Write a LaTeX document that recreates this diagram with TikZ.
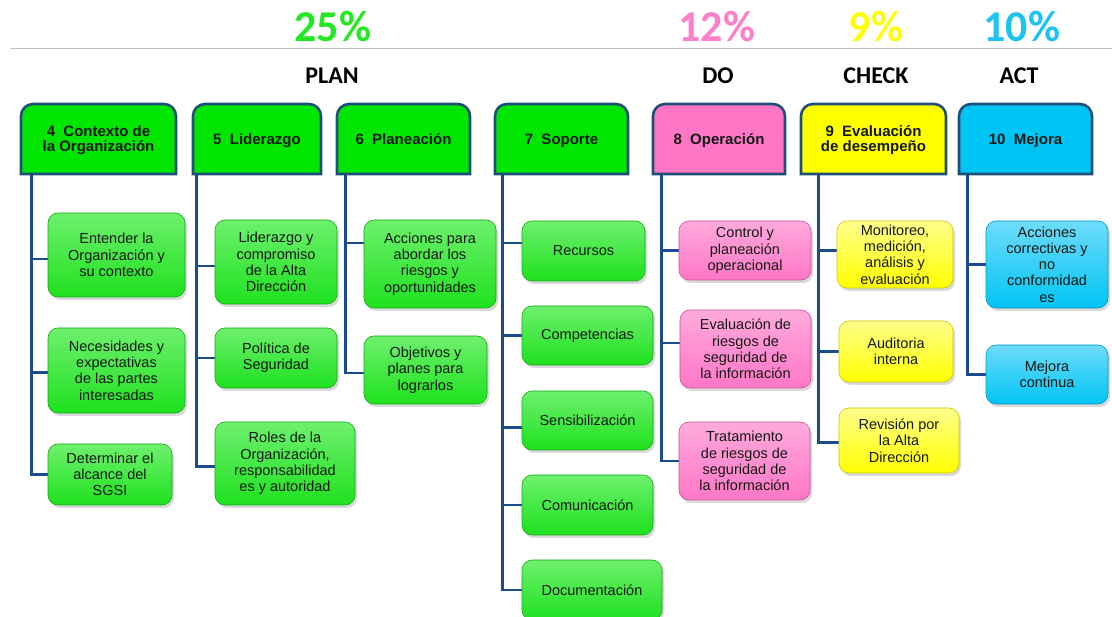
\documentclass[tikz,border=0pt]{standalone}
\usepackage{fontspec}
\setmainfont{Liberation Sans}
\newfontfamily\calib{Carlito}
\usetikzlibrary{shadows,backgrounds}
\definecolor{hdrline}{RGB}{31,78,121}
\definecolor{connc}{RGB}{26,75,140}
\definecolor{gH}{RGB}{0,230,0}
\definecolor{gC}{RGB}{30,225,30}
\definecolor{gL}{RGB}{110,240,110}
\definecolor{gD}{RGB}{20,170,20}
\definecolor{pH}{RGB}{255,118,198}
\definecolor{pL}{RGB}{255,170,220}
\definecolor{pD}{RGB}{200,80,150}
\definecolor{yH}{RGB}{255,255,0}
\definecolor{yL}{RGB}{255,255,140}
\definecolor{yD}{RGB}{200,200,0}
\definecolor{cH}{RGB}{0,196,244}
\definecolor{cL}{RGB}{110,220,250}
\definecolor{cD}{RGB}{0,150,200}
\definecolor{pctG}{RGB}{34,232,34}
\definecolor{pctP}{RGB}{255,128,200}
\definecolor{pctY}{RGB}{255,255,0}
\definecolor{pctC}{RGB}{30,195,240}
\definecolor{txt}{RGB}{20,25,20}
\tikzset{
  hdrpath/.style={draw=hdrline, line width=2.6pt},
  hdrtext/.style={minimum height=70pt, inner sep=0pt, align=center, text=txt,
    font=\bfseries\fontsize{15}{15.4}\selectfont},
  kid/.style={rounded corners=10pt, line width=0.6pt, align=center, inner sep=2pt,
    text=txt, font=\fontsize{14.5}{16.3}\selectfont,
    drop shadow={shadow xshift=2pt, shadow yshift=-3pt, opacity=0.3}},
  gkid/.style={kid, draw=gD, top color=gL, middle color=gC, bottom color=gC},
  pkid/.style={kid, draw=pD, top color=pL, middle color=pH, bottom color=pH},
  ykid/.style={kid, draw=yD, top color=yL, middle color=yH, bottom color=yH},
  ckid/.style={kid, draw=cD, top color=cL, middle color=cH, bottom color=cH},
  conn/.style={draw=connc, line width=2.8pt},
  pct/.style={font=\calib\bfseries\fontsize{44}{44}\selectfont},
  phase/.style={font=\calib\bfseries\fontsize{24}{24}\selectfont, text=black},
}
\newcommand\HdrBox[5]{%
  \path[hdrpath, fill=#4] (#2,174) -- (#2,116) arc[start angle=180,end angle=270,radius=12]
    -- ({#3-12},104) arc[start angle=270,end angle=360,radius=12] -- (#3,174) -- cycle;
  \node[hdrtext, minimum width={(#3-#2)*1pt}] (#1) at ({(#2+#3)/2},139) {\vphantom{É}#5\vphantom{g}};
}
\begin{document}
\begin{tikzpicture}[x=1pt,y=-1pt]
\useasboundingbox (0,0) rectangle (1112,617);
% percentages and phases
\node[pct, text=pctG] (p1) at (333,27) {25\%};
\node[pct, text=pctP] (p2) at (717,27) {12\%};
\node[pct, text=pctY] (p3) at (876,27) {9\%};
\node[pct, text=pctC] (p4) at (1022,27) {10\%};
\draw[black!25, line width=1pt] (10,49) -- (1112,49);
\node[phase] (ph1) at (332,76) {PLAN};
\node[phase] (ph2) at (718,76) {DO};
\node[phase] (ph3) at (876,76) {CHECK};
\node[phase] (ph4) at (1019,76) {ACT};
% headers
\HdrBox{h4}{21}{176}{gH}{4\ \ Contexto de\\la Organización}
\HdrBox{h5}{193}{321}{gH}{5\ \ Liderazgo}
\HdrBox{h6}{337}{470}{gH}{6\ \ Planeación}
\HdrBox{h7}{495}{628}{gH}{7\ \ Soporte}
\HdrBox{h8}{653}{785}{pH}{8\ \ Operación}
\HdrBox{h9}{801}{946}{yH}{9\ \ Evaluación\\de desempeño}
\HdrBox{h10}{959}{1092}{cH}{10\ \ Mejora}
% children
\node[gkid, minimum width=137pt, minimum height=84pt] (c4a) at (116.5,255) {Entender la\\Organización y\\su contexto};
\node[gkid, minimum width=137pt, minimum height=85pt] (c4b) at (116.5,370.5) {Necesidades y\\expectativas\\de las partes\\interesadas};
\node[gkid, minimum width=124pt, minimum height=61pt] (c4c) at (110,474.5) {Determinar el\\alcance del\\SGSI};
\node[gkid, minimum width=122pt, minimum height=84pt] (c5a) at (276,262) {Liderazgo y\\compromiso\\de la Alta\\Dirección};
\node[gkid, minimum width=122pt, minimum height=60pt] (c5b) at (276,358) {Política de\\Seguridad};
\node[gkid, minimum width=140pt, minimum height=83pt] (c5c) at (285,463.5) {Roles de la\\Organización,\\responsabilidad\\es y autoridad};
\node[gkid, minimum width=132pt, minimum height=88pt] (c6a) at (430,264) {Acciones para\\abordar los\\riesgos y\\oportunidades};
\node[gkid, minimum width=123pt, minimum height=68pt] (c6b) at (425.5,370) {Objetivos y\\planes para\\lograrlos};
\node[gkid, minimum width=123pt, minimum height=60pt] (c7a) at (583.5,251) {Recursos};
\node[gkid, minimum width=131pt, minimum height=59pt] (c7b) at (587.5,335.5) {Competencias};
\node[gkid, minimum width=131pt, minimum height=59pt] (c7c) at (587.5,420.5) {Sensibilización};
\node[gkid, minimum width=131pt, minimum height=60pt] (c7d) at (587.5,505) {Comunicación};
\node[gkid, minimum width=140pt, minimum height=60pt] (c7e) at (592,590) {Documentación};
\node[pkid, minimum width=132pt, minimum height=59pt] (c8a) at (745,250.5) {Control y\\planeación\\operacional};
\node[pkid, minimum width=131pt, minimum height=78pt] (c8b) at (745.5,349) {Evaluación de\\riesgos de\\seguridad de\\la información};
\node[pkid, minimum width=131pt, minimum height=78pt] (c8c) at (744.5,461) {Tratamiento\\de riesgos de\\seguridad de\\la información};
\node[ykid, minimum width=116pt, minimum height=67pt] (c9a) at (895,254.5) {Monitoreo,\\medición,\\análisis y\\evaluación};
\node[ykid, minimum width=114pt, minimum height=61pt] (c9b) at (896,351.5) {Auditoria\\interna};
\node[ykid, minimum width=120pt, minimum height=65pt] (c9c) at (899,440.5) {Revisión por\\la Alta\\Dirección};
\node[ckid, minimum width=122pt, minimum height=87pt] (c10a) at (1047,264.5) {Acciones\\correctivas y\\no\\conformidad\\es};
\node[ckid, minimum width=122pt, minimum height=59pt] (c10b) at (1047,374.5) {Mejora\\continua};
% connectors
\begin{scope}[on background layer]
\draw[conn] ([xshift=11pt]h4.south west) |- ([yshift=-4pt]c4a.west);
\draw[conn] ([xshift=11pt]h4.south west) |- ([yshift=-2pt]c4b.west);
\draw[conn] ([xshift=11pt]h4.south west) |- (c4c.west);
\draw[conn] ([xshift=3.5pt]h5.south west) |- ([yshift=-4pt]c5a.west);
\draw[conn] ([xshift=3.5pt]h5.south west) |- (c5b.west);
\draw[conn] ([xshift=3.5pt]h5.south west) |- ([yshift=-3pt]c5c.west);
\draw[conn] ([xshift=9pt]h6.south west) |- ([yshift=21pt]c6a.west);
\draw[conn] ([xshift=9pt]h6.south west) |- ([yshift=-3pt]c6b.west);
\draw[conn] ([xshift=8pt]h7.south west) |- ([yshift=8pt]c7a.west);
\draw[conn] ([xshift=8pt]h7.south west) |- (c7b.west);
\draw[conn] ([xshift=8pt]h7.south west) |- ([yshift=-7pt]c7c.west);
\draw[conn] ([xshift=8pt]h7.south west) |- (c7d.west);
\draw[conn] ([xshift=8pt]h7.south west) |- (c7e.west);
\draw[conn] ([xshift=9pt]h8.south west) |- (c8a.west);
\draw[conn] ([xshift=9pt]h8.south west) |- ([yshift=6pt]c8b.west);
\draw[conn] ([xshift=9pt]h8.south west) |- (c8c.west);
\draw[conn] ([xshift=18pt]h9.south west) |- ([yshift=4pt]c9a.west);
\draw[conn] ([xshift=18pt]h9.south west) |- (c9b.west);
\draw[conn] ([xshift=18pt]h9.south west) |- ([yshift=-2pt]c9c.west);
\draw[conn] ([xshift=9pt]h10.south west) |- (c10a.west);
\draw[conn] ([xshift=9pt]h10.south west) |- (c10b.west);
\end{scope}
\end{tikzpicture}
\end{document}
